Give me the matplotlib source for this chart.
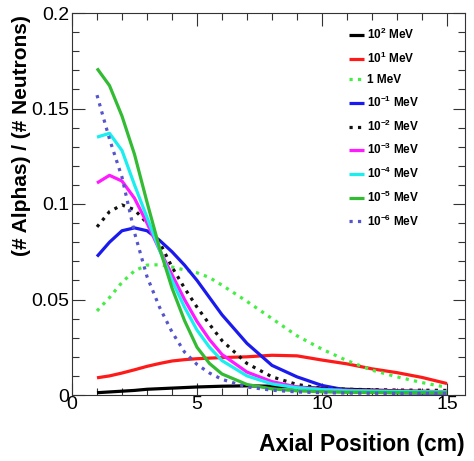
import matplotlib
matplotlib.use("Agg")
import matplotlib.pyplot as plt
from matplotlib.ticker import MultipleLocator

plt.rcParams['font.family'] = ['Liberation Sans', 'DejaVu Sans']
plt.rcParams['mathtext.fontset'] = 'custom'
plt.rcParams['mathtext.rm'] = 'Liberation Sans'
plt.rcParams['mathtext.bf'] = 'Liberation Sans:bold'

# ---- data ----
x_fine = [1, 1.5, 2, 2.5, 3, 3.5, 4, 4.5, 5, 5.5, 6, 7, 8, 9, 10, 11, 12, 13, 14, 15]

y_1e2 = [0.0012, 0.0016, 0.0020, 0.0024, 0.0030, 0.0033, 0.0036, 0.0039, 0.0042, 0.0044,
         0.0046, 0.0048, 0.0046, 0.0041, 0.0035, 0.0030, 0.0026, 0.0022, 0.0019, 0.0016]
y_1e1 = [0.0090, 0.0100, 0.0115, 0.0132, 0.0150, 0.0165, 0.0178, 0.0185, 0.0190, 0.0193,
         0.0196, 0.0200, 0.0208, 0.0205, 0.0183, 0.0163, 0.0137, 0.0117, 0.0092, 0.0060]
y_1e0 = [0.0440, 0.0510, 0.0590, 0.0650, 0.0680, 0.0682, 0.0670, 0.0655, 0.0640, 0.0615,
         0.0575, 0.0490, 0.0400, 0.0310, 0.0240, 0.0180, 0.0130, 0.0095, 0.0065, 0.0040]
y_1em1 = [0.0725, 0.0800, 0.0860, 0.0875, 0.0860, 0.0810, 0.0750, 0.0680, 0.0600, 0.0510,
          0.0420, 0.0270, 0.0155, 0.0095, 0.0050, 0.0025, 0.0015, 0.0012, 0.0010, 0.0010]
y_1em2 = [0.0880, 0.0960, 0.0995, 0.0970, 0.0900, 0.0800, 0.0670, 0.0560, 0.0460, 0.0370,
          0.0285, 0.0165, 0.0095, 0.0055, 0.0035, 0.0030, 0.0028, 0.0026, 0.0025, 0.0024]
y_1em3 = [0.1110, 0.1150, 0.1120, 0.1030, 0.0900, 0.0760, 0.0630, 0.0500, 0.0385, 0.0290,
          0.0212, 0.0120, 0.0070, 0.0042, 0.0030, 0.0025, 0.0022, 0.0020, 0.0019, 0.0018]
y_1em4 = [0.1350, 0.1370, 0.1280, 0.1100, 0.0930, 0.0760, 0.0600, 0.0460, 0.0340, 0.0250,
          0.0180, 0.0100, 0.0058, 0.0038, 0.0028, 0.0022, 0.0020, 0.0018, 0.0017, 0.0016]
y_1em5 = [0.1710, 0.1620, 0.1460, 0.1260, 0.1010, 0.0770, 0.0560, 0.0390, 0.0250, 0.0165,
          0.0110, 0.0055, 0.0032, 0.0022, 0.0017, 0.0014, 0.0013, 0.0012, 0.0012, 0.0012]
y_1em6 = [0.1570, 0.1340, 0.1140, 0.0850, 0.0620, 0.0460, 0.0330, 0.0225, 0.0160, 0.0115,
          0.0082, 0.0042, 0.0025, 0.0016, 0.0012, 0.0010, 0.0009, 0.0008, 0.0008, 0.0008]

labels = [r'$\mathbf{10^{2}}$ MeV', r'$\mathbf{10^{1}}$ MeV', '1 MeV',
          r'$\mathbf{10^{-1}}$ MeV', r'$\mathbf{10^{-2}}$ MeV', r'$\mathbf{10^{-3}}$ MeV',
          r'$\mathbf{10^{-4}}$ MeV', r'$\mathbf{10^{-5}}$ MeV', r'$\mathbf{10^{-6}}$ MeV']
series = [y_1e2, y_1e1, y_1e0, y_1em1, y_1em2, y_1em3, y_1em4, y_1em5, y_1em6]
colors = ['#000000', '#ff1a1a', '#44ee44', '#1a1aee', '#111111', '#ff1aff',
          '#1aeeee', '#33bb33', '#5555cc']
styles = ['-', '-', ':', '-', ':', '-', '-', '-', ':']

xticks = [0, 5, 10, 15]
yticks = [0, 0.05, 0.1, 0.15, 0.2]
ytick_labels = ['0', '0.05', '0.1', '0.15', '0.2']

# ---- figure ----
fig = plt.figure(figsize=(4.74, 4.61), dpi=100)
ax = fig.add_axes([72/474, 66/461, (465-72)/474, (395-13)/461])

for ys, lab, c, ls in zip(series, labels, colors, styles):
    ax.plot(x_fine, ys, color=c, ls=ls, lw=2.3, label=lab,
            solid_joinstyle='round', solid_capstyle='butt')

ax.set_xlim(0, 15.72)
ax.set_ylim(0, 0.2)
ax.set_xticks(xticks)
ax.set_xticklabels([str(t) for t in xticks])
ax.set_yticks(yticks)
ax.set_yticklabels(ytick_labels)
ax.xaxis.set_minor_locator(MultipleLocator(1))
ax.yaxis.set_minor_locator(MultipleLocator(0.01))
ax.tick_params(which='both', direction='in', top=True, right=True,
               labelsize=14, color='#333333')
ax.tick_params(which='major', length=9, width=0.8)
ax.tick_params(which='minor', length=5, width=0.8)
ax.tick_params(axis='x', pad=1)
ax.tick_params(axis='y', pad=2)
for sp in ax.spines.values():
    sp.set_linewidth(0.8)
    sp.set_color('#333333')

ax.set_xlabel('Axial Position (cm)', fontsize=16.5, fontweight='bold', loc='right',
              labelpad=14)
ax.set_ylabel('(# Alphas) / (# Neutrons)', fontsize=15, fontweight='bold', loc='top')
ax.yaxis.set_label_coords((31 - 72) / 393, 0.995)

leg = ax.legend(loc='upper right', bbox_to_anchor=(0.905, 0.985), frameon=False,
                prop={'weight': 'bold', 'size': 8.5}, handlelength=1.3,
                handletextpad=0.25, labelspacing=0.72, borderaxespad=0.3)

fig.savefig('out.png', dpi=100)
